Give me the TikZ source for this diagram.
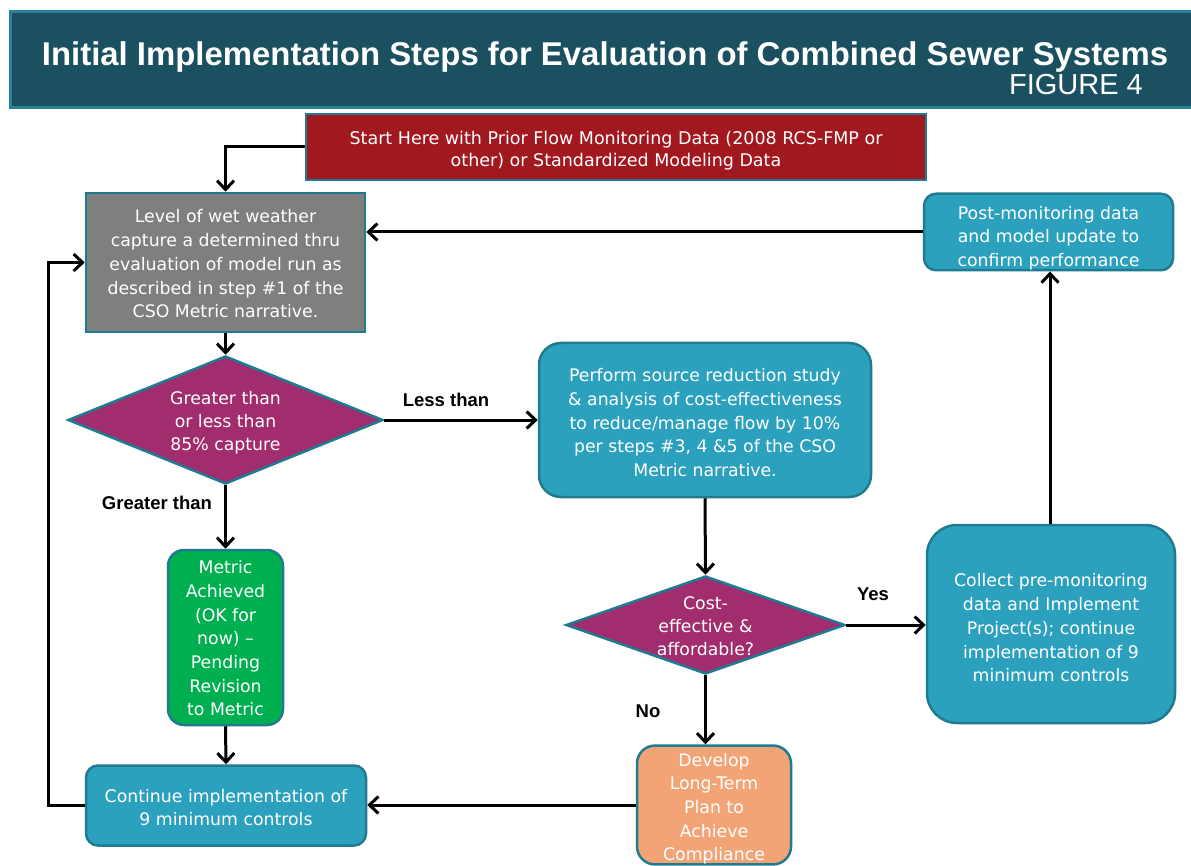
\documentclass[tikz,border=0pt]{standalone}
\usepackage{fontspec}
\setmainfont{DejaVu Sans}
\newfontfamily\arialf{Liberation Sans}
\usetikzlibrary{arrows.meta,shapes.geometric}
\definecolor{banner}{HTML}{1A5060}
\definecolor{bannerb}{HTML}{2A8099}
\definecolor{bord}{HTML}{1F7B8F}
\definecolor{redbox}{HTML}{A2181F}
\definecolor{greybox}{HTML}{7F7F7F}
\definecolor{magbox}{HTML}{A12C6E}
\definecolor{tealbox}{HTML}{2CA1BE}
\definecolor{greenbox}{HTML}{00B050}
\definecolor{orangebox}{HTML}{F2A477}
\newcommand{\tpad}[1]{\rule{0pt}{#1pt}}
\begin{document}
\begin{tikzpicture}[x=1pt,y=-1pt,
  base/.style={draw=bord, line width=2.5pt, text=white, align=center, inner sep=0pt,
    font=\fontsize{17.3}{23.7}\selectfont},
  sbox/.style={base, rectangle},
  rbox/.style={base, rectangle, rounded corners=#1},
  dia/.style={base, diamond, fill=magbox, font=\fontsize{17.3}{23}\selectfont},
  arr/.style={line width=3pt, -{Straight Barb[length=9pt,width=17pt]}},
  lbl/.style={font=\arialf\bfseries\fontsize{18.5}{20}\selectfont, inner sep=0pt}
]
\useasboundingbox (0,0) rectangle (1191,866);
\fill[white] (0,0) rectangle (1191,866);

% title banner
\node[fill=banner, draw=bannerb, line width=3pt, minimum width=1183, minimum height=96, inner sep=0pt] (banner) at (601.5,59.5) {};
\node[font=\arialf\bfseries\fontsize{32.9}{36}\selectfont, text=white, anchor=base, inner sep=0pt] (title) at (605,66) {Initial Implementation Steps for Evaluation of Combined Sewer Systems};
\node[font=\arialf\fontsize{29}{32}\selectfont, text=white, anchor=base east, inner sep=0pt] (fig) at (1143,95) {FIGURE 4};

% boxes
\node[sbox, fill=redbox, minimum width=620, minimum height=66, font=\fontsize{17.5}{22}\selectfont] (start) at (616,147)
  {\tpad{20.5}Start Here with Prior Flow Monitoring Data (2008 RCS-FMP or\\other) or Standardized Modeling Data};
\node[sbox, fill=greybox, minimum width=279, minimum height=139] (grey) at (225.5,262.5)
  {\tpad{16}Level of wet weather\\capture a determined thru\\evaluation of model run as\\described in step \#1 of the\\CSO Metric narrative.};
\node[dia, minimum width=315, minimum height=128, aspect=2.46] (d1) at (225.5,420)
  {\tpad{19.5}Greater than\\or less than\\85\% capture};
\node[rbox=22, fill=tealbox, minimum width=332, minimum height=154] (proc) at (705,420)
  {\tpad{18.5}Perform source reduction study\\\& analysis of cost-effectiveness\\to reduce/manage flow by 10\%\\per steps \#3, 4 \&5 of the CSO\\Metric narrative.};
\node[dia, minimum width=279, minimum height=98, aspect=2.85] (d2) at (705.5,625)
  {\tpad{15}Cost-\\effective \&\\affordable?};
\node[rbox=16, fill=greenbox, minimum width=115, minimum height=175] (green) at (225.5,637.5)
  {\tpad{15}Metric\\Achieved\\(OK for\\now) –\\Pending\\Revision\\to Metric};
\node[rbox=12, fill=tealbox, minimum width=280, minimum height=80] (cont) at (226,805.5)
  {\tpad{17}Continue implementation of\\9 minimum controls};
\node[rbox=18, fill=orangebox, minimum width=154, minimum height=118] (dev) at (714,805)
  {\tpad{20.5}Develop\\Long-Term\\Plan to\\Achieve\\Compliance};
\node[rbox=30, fill=tealbox, minimum width=248, minimum height=198, font=\fontsize{17.3}{23.9}\selectfont] (coll) at (1051,624)
  {\tpad{20.5}Collect pre-monitoring\\data and Implement\\Project(s); continue\\implementation of 9\\minimum controls};
\node[rbox=12, fill=tealbox, minimum width=249, minimum height=76] (post) at (1048.5,232)
  {\tpad{25.5}Post-monitoring data\\and model update to\\confirm performance};

% connector labels
\node[lbl] (lless) at (446,400) {Less than};
\node[lbl] (lgreat) at (157,503) {Greater than};
\node[lbl] (lyes) at (873,594) {Yes};
\node[lbl] (lno) at (648,711) {No};

% connectors
\coordinate (loop) at (48,805.5);
\draw[arr] (start.west) -| (grey.north);
\draw[arr] (grey.south) -- (d1.north);
\draw[arr] (d1.east) -- (proc.west);
\draw[arr] (d1.south) -- (green.north);
\draw[arr] (green.south) -- (cont.north);
\draw[arr] (cont.west) -- (loop) |- (grey.west);
\draw[arr] (proc.south) -- (d2.north);
\draw[arr] (d2.east) -- (d2.east -| coll.west);
\draw[arr] (d2.south) -- (d2.south |- dev.north);
\draw[arr] (dev.west) -- (dev.west -| cont.east);
\draw[arr] (coll.north -| 1050,0) -- (post.south -| 1050,0);
\draw[arr] (post.west) -- (post.west -| grey.east);
\end{tikzpicture}
\end{document}
